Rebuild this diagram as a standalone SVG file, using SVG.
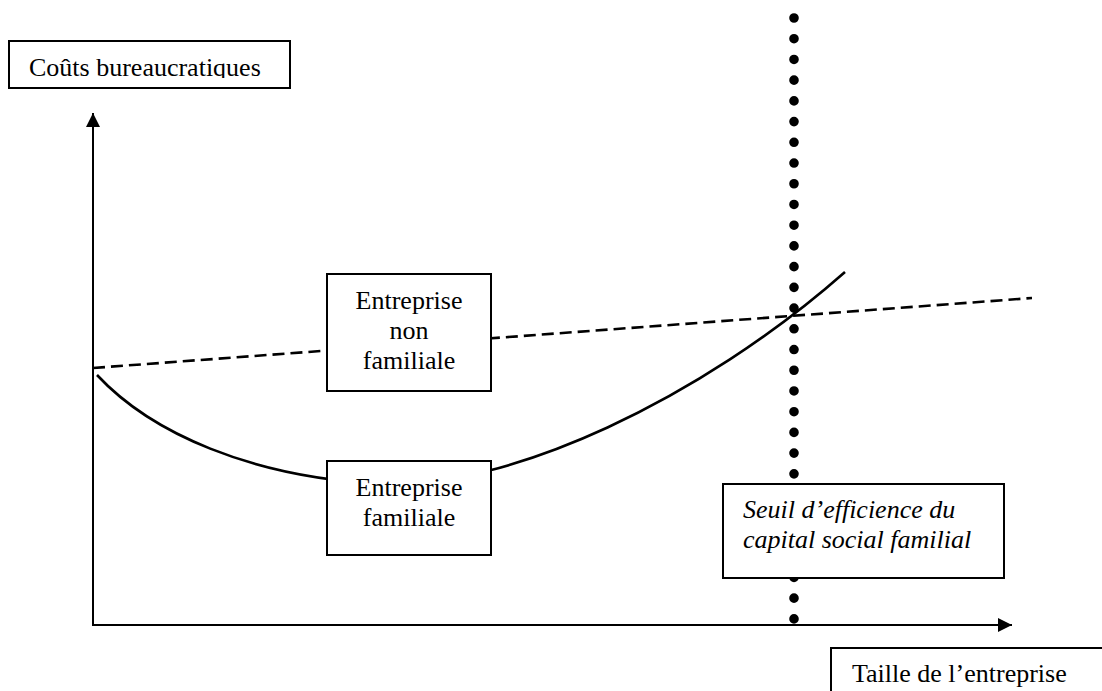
<svg xmlns="http://www.w3.org/2000/svg" width="1102" height="691" viewBox="0 0 1102 691">
<style>
.box{fill:#fff;stroke:#000;stroke-width:2}
.t{font-family:"Liberation Serif","Times New Roman",serif;font-size:26px;fill:#000}
.c{text-anchor:middle}
.i{font-style:italic}
.ax{stroke:#000;stroke-width:2;fill:none}
</style>
<defs>
<marker id="arr" markerWidth="14" markerHeight="14" refX="14" refY="7" orient="auto" markerUnits="userSpaceOnUse">
<path d="M0,0 L14,7 L0,14 Z" fill="#000"/>
</marker>
<clipPath id="clipCouts"><rect x="0" y="0" width="300" height="78"/></clipPath>
</defs>
<rect width="1102" height="691" fill="#fff"/>
<g id="connectors">
<line class="ax" x1="93" y1="626" x2="93" y2="113" marker-end="url(#arr)"/>
<line class="ax" x1="92" y1="625" x2="1012" y2="625" marker-end="url(#arr)"/>
<line x1="93" y1="368" x2="1032" y2="298" stroke="#000" stroke-width="2.6" stroke-dasharray="12 6"/>
<path d="M97,375 C150,432 250,478 385,484 C510,488 700,400 845,272" fill="none" stroke="#000" stroke-width="2.6"/>
<line x1="794" y1="18" x2="794" y2="620" stroke="#000" stroke-width="9.6" stroke-linecap="round" stroke-dasharray="0 20.72"/>
</g>
<g id="couts">
<rect class="box" x="9" y="41" width="281" height="47"/>
<text class="t" x="29" y="76" clip-path="url(#clipCouts)">Coûts bureaucratiques</text>
</g>
<g id="non-familiale">
<rect class="box" x="327" y="274" width="164" height="117"/>
<text class="t c" x="409" y="309">Entreprise</text>
<text class="t c" x="409" y="339">non</text>
<text class="t c" x="409" y="369">familiale</text>
</g>
<g id="familiale">
<rect class="box" x="327" y="461" width="164" height="94"/>
<text class="t c" x="409" y="496">Entreprise</text>
<text class="t c" x="409" y="526">familiale</text>
</g>
<g id="seuil">
<rect class="box" x="723" y="484" width="281" height="94"/>
<text class="t i" x="743" y="518">Seuil d’efficience du</text>
<text class="t i" x="743" y="548">capital social familial</text>
</g>
<g id="taille">
<rect class="box" x="831" y="648" width="290" height="60"/>
<text class="t" x="852" y="682">Taille de l’entreprise</text>
</g>
</svg>
